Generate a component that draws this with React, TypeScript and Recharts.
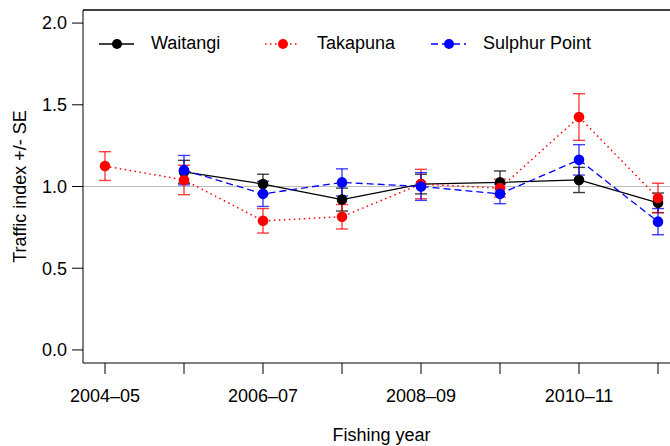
import React from 'react';
import { LineChart, Line, XAxis, YAxis, ErrorBar, ReferenceLine, Legend } from 'recharts';

const years = ['2004–05', '2005–06', '2006–07', '2007–08', '2008–09', '2009–10', '2010–11', '2011–12'];

const waitangi = [null, 1.09, 1.015, 0.92, 1.015, 1.025, 1.04, 0.9];
const waitangiSE = [null, 0.07, 0.06, 0.07, 0.06, 0.07, 0.077, 0.06];

const takapuna = [1.125, 1.04, 0.79, 0.815, 1.015, 0.99, 1.425, 0.93];
const takapunaSE = [0.088, 0.09, 0.075, 0.075, 0.09, 0.055, 0.143, 0.09];

const sulphur = [null, 1.1, 0.955, 1.025, 1.0, 0.955, 1.163, 0.785];
const sulphurSE = [null, 0.09, 0.077, 0.083, 0.085, 0.06, 0.093, 0.08];

const yTicks = [0, 0.5, 1, 1.5, 2];
const yDomain = [-0.08, 2.08];

const FONT = '"Liberation Sans", Arial, Helvetica, sans-serif';

const series = [
  { key: 'waitangi', err: 'waitangiSE', name: 'Waitangi', color: '#000000', dash: undefined as string | undefined, width: 1.3 },
  { key: 'takapuna', err: 'takapunaSE', name: 'Takapuna', color: '#ff0000', dash: '1.5 3.5', width: 1.5 },
  { key: 'sulphur', err: 'sulphurSE', name: 'Sulphur Point', color: '#0000ff', dash: '7 4', width: 1.3 },
];

const data = years.map((year, i) => ({
  year,
  waitangi: waitangi[i],
  waitangiSE: waitangiSE[i],
  takapuna: takapuna[i],
  takapunaSE: takapunaSE[i],
  sulphur: sulphur[i],
  sulphurSE: sulphurSE[i],
}));

const makeDot = (color: string) => (p: any) => {
  if (p.value == null || p.cy == null) return <g key={p.index} />;
  return <circle key={p.index} cx={p.cx} cy={p.cy} r={5.3} fill={color} stroke="none" />;
};

// legend sits inside the plot, top-left, no frame
function LegendContent() {
  return (
    <div style={{ display: 'flex', alignItems: 'center', fontFamily: FONT, fontSize: 18, color: '#000' }}>
      {series.map((s) => (
        <div key={s.key} style={{ display: 'flex', alignItems: 'center', width: 166 }}>
          <svg width={35} height={14} style={{ marginRight: 17 }}>
            <line x1={0} y1={7} x2={35} y2={7} stroke={s.color} strokeWidth={s.width} strokeDasharray={s.dash} />
            <circle cx={18} cy={7} r={5} fill={s.color} />
          </svg>
          <span style={{ whiteSpace: 'nowrap' }}>{s.name}</span>
        </div>
      ))}
    </div>
  );
}

export default function App() {
  return (
    <div style={{ position: 'absolute', left: 0, top: 0, width: 670, height: 446, overflow: 'hidden', background: '#fff' }}>
      <LineChart width={690} height={446} data={data} margin={{ top: 10, right: 10, bottom: 0, left: 0 }}>
        <XAxis
          dataKey="year"
          interval={0}
          padding={{ left: 22, right: 22 }}
          height={83}
          tickSize={11}
          tickMargin={15}
          tickFormatter={(v: string, i: number) => (i % 2 === 0 ? v : '')}
          tick={{ fill: '#000', fontSize: 18, fontFamily: FONT }}
          stroke="#000"
          label={{ value: 'Fishing year', position: 'insideBottom', offset: 5, fill: '#000', fontSize: 18, fontFamily: FONT }}
        />
        <YAxis
          domain={yDomain}
          ticks={yTicks}
          width={83}
          tickSize={11}
          tickMargin={5}
          tickFormatter={(v: number) => v.toFixed(1)}
          tick={{ fill: '#000', fontSize: 18, fontFamily: FONT }}
          stroke="#000"
          allowDataOverflow
          label={{
            value: 'Traffic index +/- SE',
            angle: -90,
            position: 'insideLeft',
            offset: 20,
            style: { textAnchor: 'middle' },
            fill: '#000',
            fontSize: 18,
            fontFamily: FONT,
          }}
        />
        {/* top edge of the plot frame */}
        <ReferenceLine y={yDomain[1]} stroke="#000" strokeWidth={1.5} />
        <ReferenceLine y={1} stroke="#bdbdbd" strokeWidth={1.2} />
        {/* zero-height wrapper so the legend doesn't take room from the plot */}
        <Legend
          verticalAlign="top"
          align="left"
          content={<LegendContent />}
          wrapperStyle={{ position: 'absolute', left: 99, top: 33, width: 560, height: 0, overflow: 'visible' }}
        />
        {series.map((s) => (
          <Line
            key={s.key}
            dataKey={s.key}
            name={s.name}
            stroke={s.color}
            strokeWidth={s.width}
            strokeDasharray={s.dash}
            dot={makeDot(s.color)}
            activeDot={false}
            isAnimationActive={false}
          >
            <ErrorBar dataKey={s.err} width={6} stroke={s.color} strokeOpacity={0.75} strokeWidth={1.4} direction="y" />
          </Line>
        ))}
      </LineChart>
    </div>
  );
}
